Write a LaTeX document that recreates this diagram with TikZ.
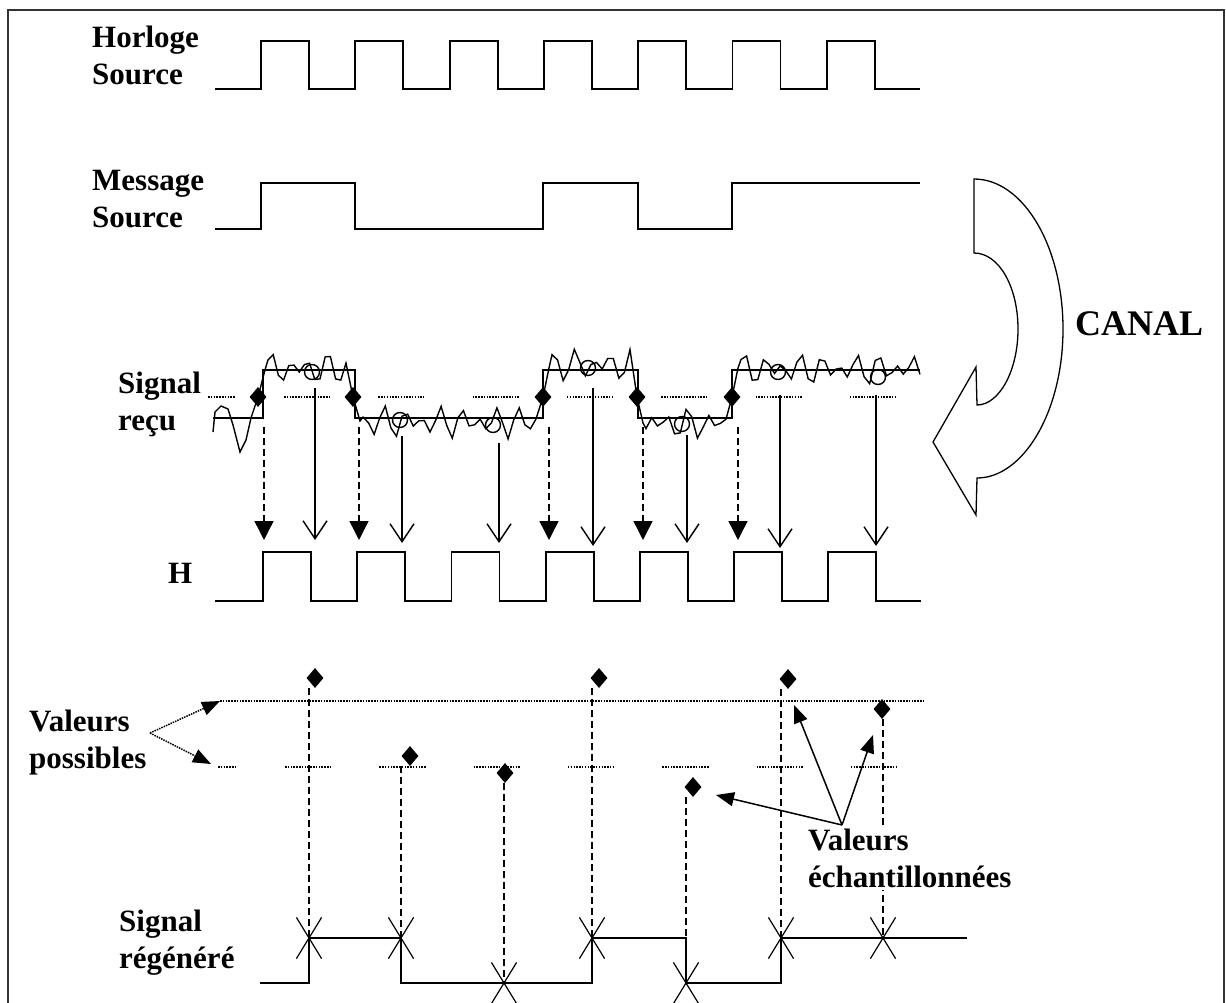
\documentclass[tikz,border=0pt]{standalone}
\usepackage{fontspec}
\setmainfont{Liberation Serif}
\usetikzlibrary{shapes.geometric,shapes.misc,arrows.meta,calc}

\begin{document}
\begin{tikzpicture}[x=1pt,y=-1pt,
        lbl/.style={font=\bfseries\fontsize{31}{37}\selectfont, align=left, anchor=base west, inner sep=0pt},
        wave/.style={line width=1.8pt},
        noisy/.style={line width=1.4pt},
        dots/.style={line width=1.6pt, dash pattern=on 1.5pt off 1.3pt},
        drop/.style={line width=1.4pt, dash pattern=on 7pt off 4pt},
        diam/.style={diamond, fill=black, inner sep=0pt, minimum width=17pt, minimum height=20pt},
        xmark/.style={cross out, draw, line width=1.2pt, inner sep=0pt, minimum width=24pt, minimum height=40pt},
        dasharrow/.style={drop, -{Triangle[width=19pt,length=19pt]}},
        samparrow/.style={line width=1.4pt, -{Straight Barb[width=24pt,length=18pt]}},
        ptr/.style={line width=1.5pt, -{Triangle[width=14pt,length=18pt]}}]
        \useasboundingbox (0,0) rectangle (1226,1003);
        % Frame
        \draw[line width=2pt, black!80] (8,1003) -- (8,10) -- (1224,10) -- (1224,1003);
        % Labels (anchored on the last line)
        \node[lbl] (horloge) at (92,85) {Horloge\\Source};
        \node[lbl] (message) at (92,228) {Message\\Source};
        \node[lbl] (recu) at (118,430) {Signal\\reçu};
        \node[lbl] (hlab) at (168,583) {H};
        \node[lbl] (possibles) at (29,768) {Valeurs\\possibles};
        \node[lbl] (regen) at (119,968) {Signal\\régénéré};
        \node[font=\bfseries\fontsize{36}{40}\selectfont, anchor=base west, inner sep=0pt] (canal) at (1075,335) {CANAL};
        % Source clock
        \draw[wave] (215,89) \foreach \k in {0,...,6} { -- ({261+94.3*\k},89) -- ++(0,-48) -- ++(48,0) -- ++(0,48) } -- (920,89);
        % Source message
        \draw[wave] (215,229) -- (261,229) -- (261,183) -- (355,183) -- (355,229) -- (543,229) -- (543,183)
            -- (638,183) -- (638,229) -- (732,229) -- (732,183) -- (920,183);
        % Channel arrow
        \draw[line width=1.3pt] (974,179) .. controls (1023,179) and (1063,246) .. (1063,329)
            .. controls (1063,412) and (1023,478) .. (977,478) -- (976,515) -- (933,442) -- (976,367) -- (977,405)
            .. controls (999,405) and (1018,371) .. (1018,329) .. controls (1018,287) and (999,253) .. (974,253) -- cycle;
        % Received signal: ideal level and threshold
        \draw[line width=1.2pt] (213,418) -- (263,418) -- (263,370) -- (355,370) -- (355,418) -- (543,418) -- (543,370)
            -- (638,370) -- (638,418) -- (732,418) -- (732,370) -- (920,370);
        \draw[dots] (208,397) -- (235,397);
        \foreach \k in {0,...,6} {
                \draw[dots] ({284+94.3*\k},397) -- ++(46,0);
            }
        % Transitions seen on the received signal
        \foreach \i/\x in {1/258, 2/353, 3/543, 4/637, 5/732} {
                \node[diam] (d\i) at (\x,397) {};
            }
        % Noise
        \draw[noisy] (213,432) -- (215,412) -- (221,406) -- (228,409) -- (233,425) -- (240,452) -- (246,440) -- (251,418)
            -- (d1.center) -- (265,370)
            -- plot[domain=268:346, samples=16] (\x, {369 + 10*sin(19*(\x-200)) + 7*sin(13*(\x-200)+50)})
            -- (d2.center) -- (360,421)
            -- plot[domain=363:536, samples=32] (\x, {422 + 10*sin(19*(\x-200)) + 7*sin(13*(\x-200)+50)})
            -- (d3.center) -- (549,368)
            -- plot[domain=552:630, samples=15] (\x, {365 + 10*sin(19*(\x-200)) + 7*sin(13*(\x-200)+50)})
            -- (d4.center) -- (643,423)
            -- plot[domain=646:726, samples=15] (\x, {424 + 10*sin(19*(\x-200)) + 7*sin(13*(\x-200)+50)})
            -- (d5.center) -- (738,368)
            -- plot[domain=741:920, samples=33] (\x, {369 + 10*sin(19*(\x-200)) + 7*sin(13*(\x-200)+50)});
        \foreach \x/\y in {312/372, 400/420, 493/425, 588/368, 682/424, 778/372, 878/377} {
                \draw[noisy] (\x,\y) circle (7.5);
            }
        % Recovered clock H
        \draw[wave] (215,601) \foreach \k in {0,...,6} { -- ({263+94.2*\k},601) -- ++(0,-49) -- ++(48,0) -- ++(0,49) } -- (921,601);
        \foreach \i in {1,...,5} {
                \draw[dasharrow] ($(d\i)+(6,30)$) -- ($(d\i)+(6,143)$);
            }
        % Sampling instants
        \foreach \x/\ya/\yb in {315/388/540, 402/436/543, 499/443/543, 593/388/546, 687/435/543, 780/395/548, 876/395/546} {
                \draw[samparrow] (\x,\ya) -- (\x,\yb);
            }
        % Possible values
        \draw[dots] (220,701) -- (925,701);
        \draw[dots] (218,767) -- (237,767);
        \foreach \k in {0,...,6} {
                \draw[dots] ({285+94.3*\k},767) -- ++(47,0);
            }
        \coordinate (vp) at (150,733);
        \draw[ptr, dash pattern=on 1.5pt off 1pt] (vp) -- (220,701);
        \draw[ptr, dash pattern=on 1.5pt off 1pt] (vp) -- (211,764);
        % Sampled values
        \foreach \i/\x/\y in {1/315/678, 2/410/756, 3/505/773, 4/599/678, 5/693/787, 6/788/679, 7/882/709} {
                \node[diam] (s\i) at (\x,\y) {};
            }
        % Regenerated signal
        \foreach \i/\x/\y in {1/309/938, 2/401/938, 3/504/983, 4/592/938, 5/686/983, 6/781/938, 7/883/938} {
                \node[xmark] (c\i) at (\x,\y) {};
            }
        \foreach \i in {1,...,7} {
                \draw[drop] (c\i.center |- s\i.south) -- (c\i.center);
            }
        \draw[wave] (260,983) -- (c1.center |- c3.center) -- (c1.center) -- (c2.center) -- (c2.center |- c3.center)
            -- (c4.center |- c3.center) -- (c4.center) -- (c4.center -| c5.center) -- (c5.center)
            -- (c6.center |- c5.center) -- (c6.center) -- (967,938);
        \node[lbl, fill=white, inner sep=3pt] (vech) at (805,887) {Valeurs\\échantillonnées};
        \coordinate (ve) at (842,825);
        \draw[ptr] (ve) -- ($(s5)+(23,8)$);
        \draw[ptr] (ve) -- ($(s6)+(6,26)$);
        \draw[ptr] (ve) -- ($(s7)+(-9,26)$);
    \end{tikzpicture}
\end{document}
